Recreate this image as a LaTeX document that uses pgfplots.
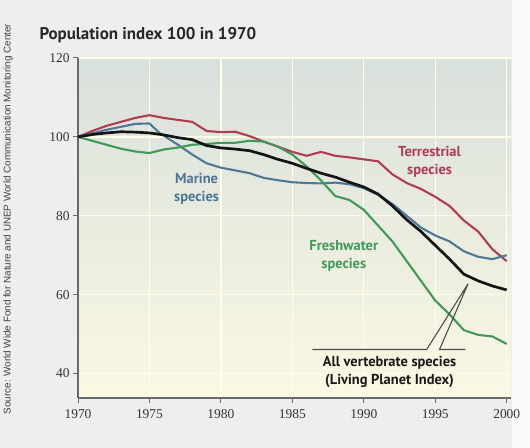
\documentclass[border=0pt]{standalone}
\usepackage{fontspec}
\setmainfont{Liberation Serif}
\newfontfamily\annfont{PT Sans}
\newfontfamily\srcfont{Liberation Sans}
\usepackage{pgfplots}
\pgfplotsset{compat=1.18}
\definecolor{terr}{HTML}{B23A52}
\definecolor{mar}{HTML}{4D7896}
\definecolor{fresh}{HTML}{3F9A58}
\definecolor{axgrey}{HTML}{6A6A6A}
\definecolor{bgtop}{HTML}{D8E0DC}
\definecolor{bgbot}{HTML}{FBF8E3}
\begin{document}
\begin{tikzpicture}[x=1bp,y=1bp]
\useasboundingbox (0,0) rectangle (530,448);
\fill[gray!13] (0,0) rectangle (530,448);
\fill[white!96!gray] (512,0) rectangle (530,448);
\node[rotate=90,anchor=center,font=\srcfont\fontsize{9.9}{10}\selectfont,text=black!75] at (8,229) {Source: World Wide Fond for Nature and UNEP World Communication Monitoring Center};
\node[anchor=west,font=\annfont\bfseries\fontsize{17}{19}\selectfont,text=black!85] at (36,413) {Population index 100 in 1970};
\begin{axis}[
  at={(78bp,50bp)}, anchor=south west,
  scale only axis, width=433bp, height=340bp,
  xmin=1970, xmax=2000.3, ymin=33.8, ymax=120,
  axis x line*=bottom, axis y line*=left,
  axis line style={axgrey, line width=1.3pt},
  x axis line style={-}, y axis line style={-},
  xtick={1970,1975,...,2000}, ytick={40,60,80,100,120},
  xticklabel style={/pgf/number format/1000 sep={}, yshift=-3bp},
  /pgf/number format/assume math mode=true,
  tick label style={font=\fontsize{13.5}{14}\selectfont, text=black!80},
  tick style={axgrey, line width=1pt},
  major tick length=5bp,
  tick align=outside,
  grid=major,
  major grid style={white!92!yellow, line width=1.3pt},
  axis background/.style={shade, top color=bgtop, bottom color=bgbot},
  clip=false,
]
\addplot[terr, line width=2.1pt] coordinates {
(1970,100)(1971,101.5)(1972,102.8)(1973,103.8)(1974,104.8)(1975,105.5)(1976,104.8)(1977,104.3)(1978,103.8)(1979,101.5)(1980,101.2)(1981,101.3)(1982,100.2)(1983,98.8)(1984,97.5)(1985,96.2)(1986,95.2)(1987,96.2)(1988,95.2)(1989,94.8)(1990,94.3)(1991,93.8)(1992,90.5)(1993,88.3)(1994,86.8)(1995,84.8)(1996,82.5)(1997,78.8)(1998,76)(1999,71.5)(2000,68.5)};
\addplot[mar, line width=2.1pt] coordinates {
(1970,100)(1972,101.8)(1974,103.3)(1975,103.4)(1975.7,101)(1977,98)(1978,95.5)(1979,93.3)(1980,92.2)(1981,91.5)(1982,90.8)(1983,89.6)(1984,89)(1985,88.5)(1986,88.3)(1987,88.2)(1988,88.4)(1989,88)(1990,87)(1991,85.3)(1992,83)(1993,80)(1994,77)(1995,75)(1996,73.5)(1997,71)(1998,69.6)(1999,69)(2000,70)};
\addplot[fresh, line width=2.1pt] coordinates {
(1970,100)(1971,99)(1972,98)(1973,97)(1974,96.3)(1975,95.9)(1976,96.8)(1977,97.3)(1978,98)(1979,98.2)(1980,98.5)(1981,98.5)(1982,99)(1983,98.8)(1984,97.5)(1985,95.5)(1986,92.5)(1987,89)(1988,85)(1989,84)(1990,81.5)(1991,77.5)(1992,73.5)(1993,68.5)(1994,63.5)(1995,58.5)(1996,55)(1997,51)(1998,49.8)(1999,49.4)(2000,47.5)};
\addplot[black!92, line width=2.7pt] coordinates {
(1970,100)(1971,100.6)(1972,101)(1973,101.3)(1974,101.2)(1975,101)(1976,100.5)(1977,99.8)(1978,99.3)(1979,97.8)(1980,97.2)(1981,96.9)(1982,96.5)(1983,95.5)(1984,94.3)(1985,93.3)(1986,92)(1987,90.8)(1988,89.8)(1989,88.5)(1990,87.3)(1991,85.5)(1992,82.5)(1993,79)(1994,76)(1995,72.5)(1996,69)(1997,65.2)(1998,63.5)(1999,62.2)(2000,61.2)};
\draw[black!70, line width=1.1pt] (axis cs:1986.4,46.1) -- (axis cs:1994.4,46.1) -- (axis cs:1997.3,62.8) -- (axis cs:1995.3,46.1) -- (axis cs:1997.1,46.1);
\tikzset{ann/.style={font=\annfont\bfseries\fontsize{14.5}{18}\selectfont, align=center}}
\node[ann, text=mar] at (axis cs:1978.3,86.9) {Marine\\species};
\node[ann, text=terr] at (axis cs:1994.6,93.7) {Terrestrial\\species};
\node[ann, text=fresh] at (axis cs:1988.6,69.8) {Freshwater\\species};
\node[ann, text=black!90] at (axis cs:1991.8,40.3) {All vertebrate species\\(Living Planet Index)};
\end{axis}
\end{tikzpicture}
\end{document}
